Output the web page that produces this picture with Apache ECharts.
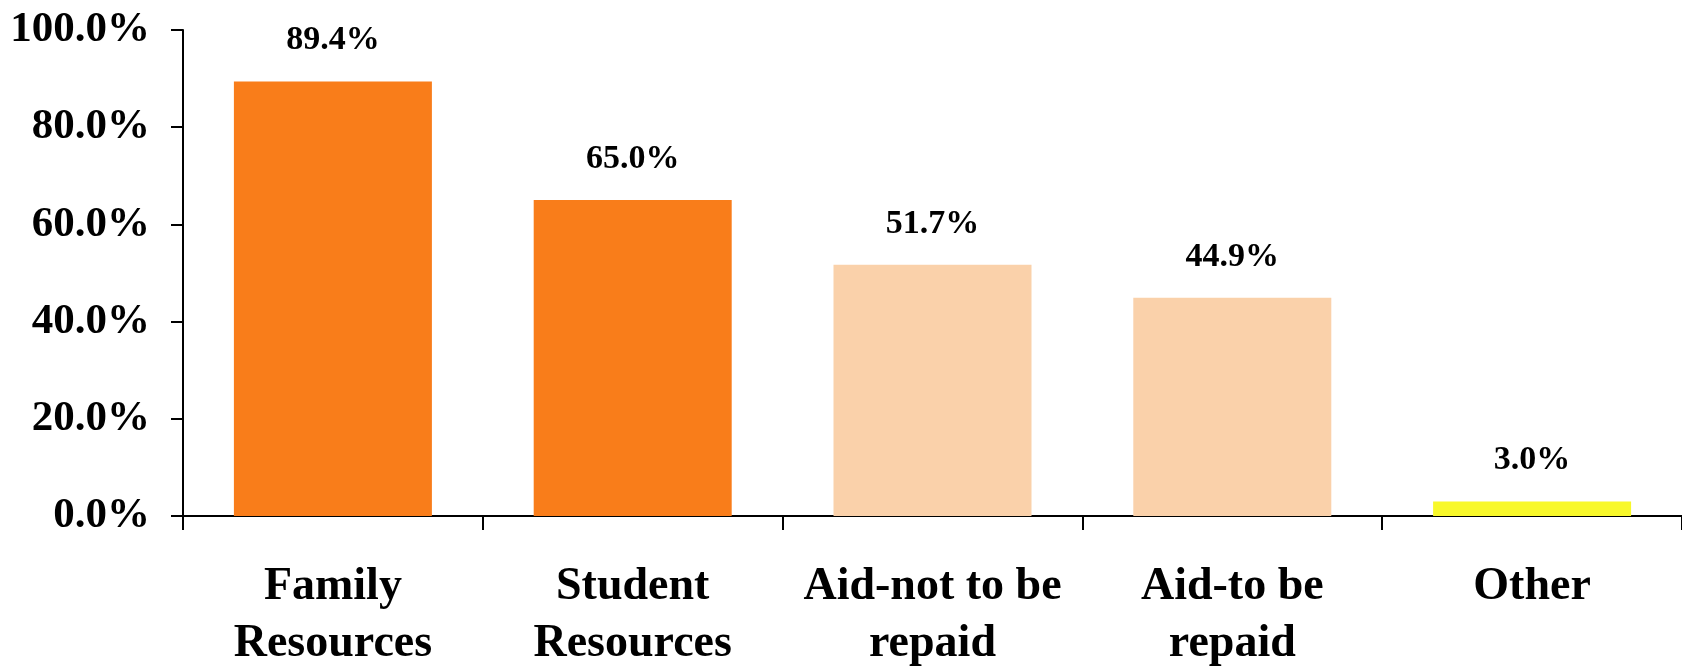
<!DOCTYPE html>
<html lang="en">
<head>
    <meta charset="UTF-8">
    <title>Resources</title>
    <style>
        html, body { margin: 0; padding: 0; background: #fff; }
        #main { width: 1682px; height: 667px; }
    </style>
</head>
<body>
<div id="main"></div>
<script src="https://cdn.jsdelivr.net/npm/echarts@6/dist/echarts.min.js"></script>
<script>
    // data
    const categories = ['Family\nResources', 'Student\nResources', 'Aid-not to be\nrepaid', 'Aid-to be\nrepaid', 'Other'];
    const values = [89.4, 65.0, 51.7, 44.9, 3.0];
    const barColors = ['#F97D1A', '#F97D1A', '#FAD1AA', '#FAD1AA', '#F8F82A'];

    const serif = '"Liberation Serif", "DejaVu Serif", serif';

    const myChart = echarts.init(document.getElementById('main'));

    const option = {
        animation: false,
        grid: { left: 183, right: 0, top: 30, bottom: 151, outerBoundsMode: 'none' },
        xAxis: {
            type: 'category',
            data: categories,
            axisLine: { lineStyle: { color: '#000', width: 2 } },
            axisTick: { show: true, length: 14, lineStyle: { color: '#000', width: 2 } },
            axisLabel: {
                color: '#000', fontFamily: serif, fontWeight: 'bold',
                fontSize: 46, lineHeight: 57, margin: 43, interval: 0
            }
        },
        yAxis: {
            type: 'value',
            min: 0, max: 100, interval: 20,
            splitLine: { show: false },
            axisLine: { show: true, lineStyle: { color: '#000', width: 2 } },
            axisTick: { show: true, length: 12, lineStyle: { color: '#000', width: 2 } },
            axisLabel: {
                color: '#000', fontFamily: serif, fontWeight: 'bold', fontSize: 43, margin: 33,
                formatter: function (v) { return v.toFixed(1) + '%'; }
            }
        },
        series: [{
            type: 'bar',
            barWidth: 198,
            data: values.map(function (v, i) {
                return { value: v, itemStyle: { color: barColors[i] } };
            }),
            label: {
                show: true, position: 'top', distance: 24,
                color: '#000', fontFamily: serif, fontWeight: 'bold', fontSize: 34,
                formatter: function (p) { return p.value.toFixed(1) + '%'; }
            }
        }]
    };
    myChart.setOption(option);
</script>
</body>
</html>
